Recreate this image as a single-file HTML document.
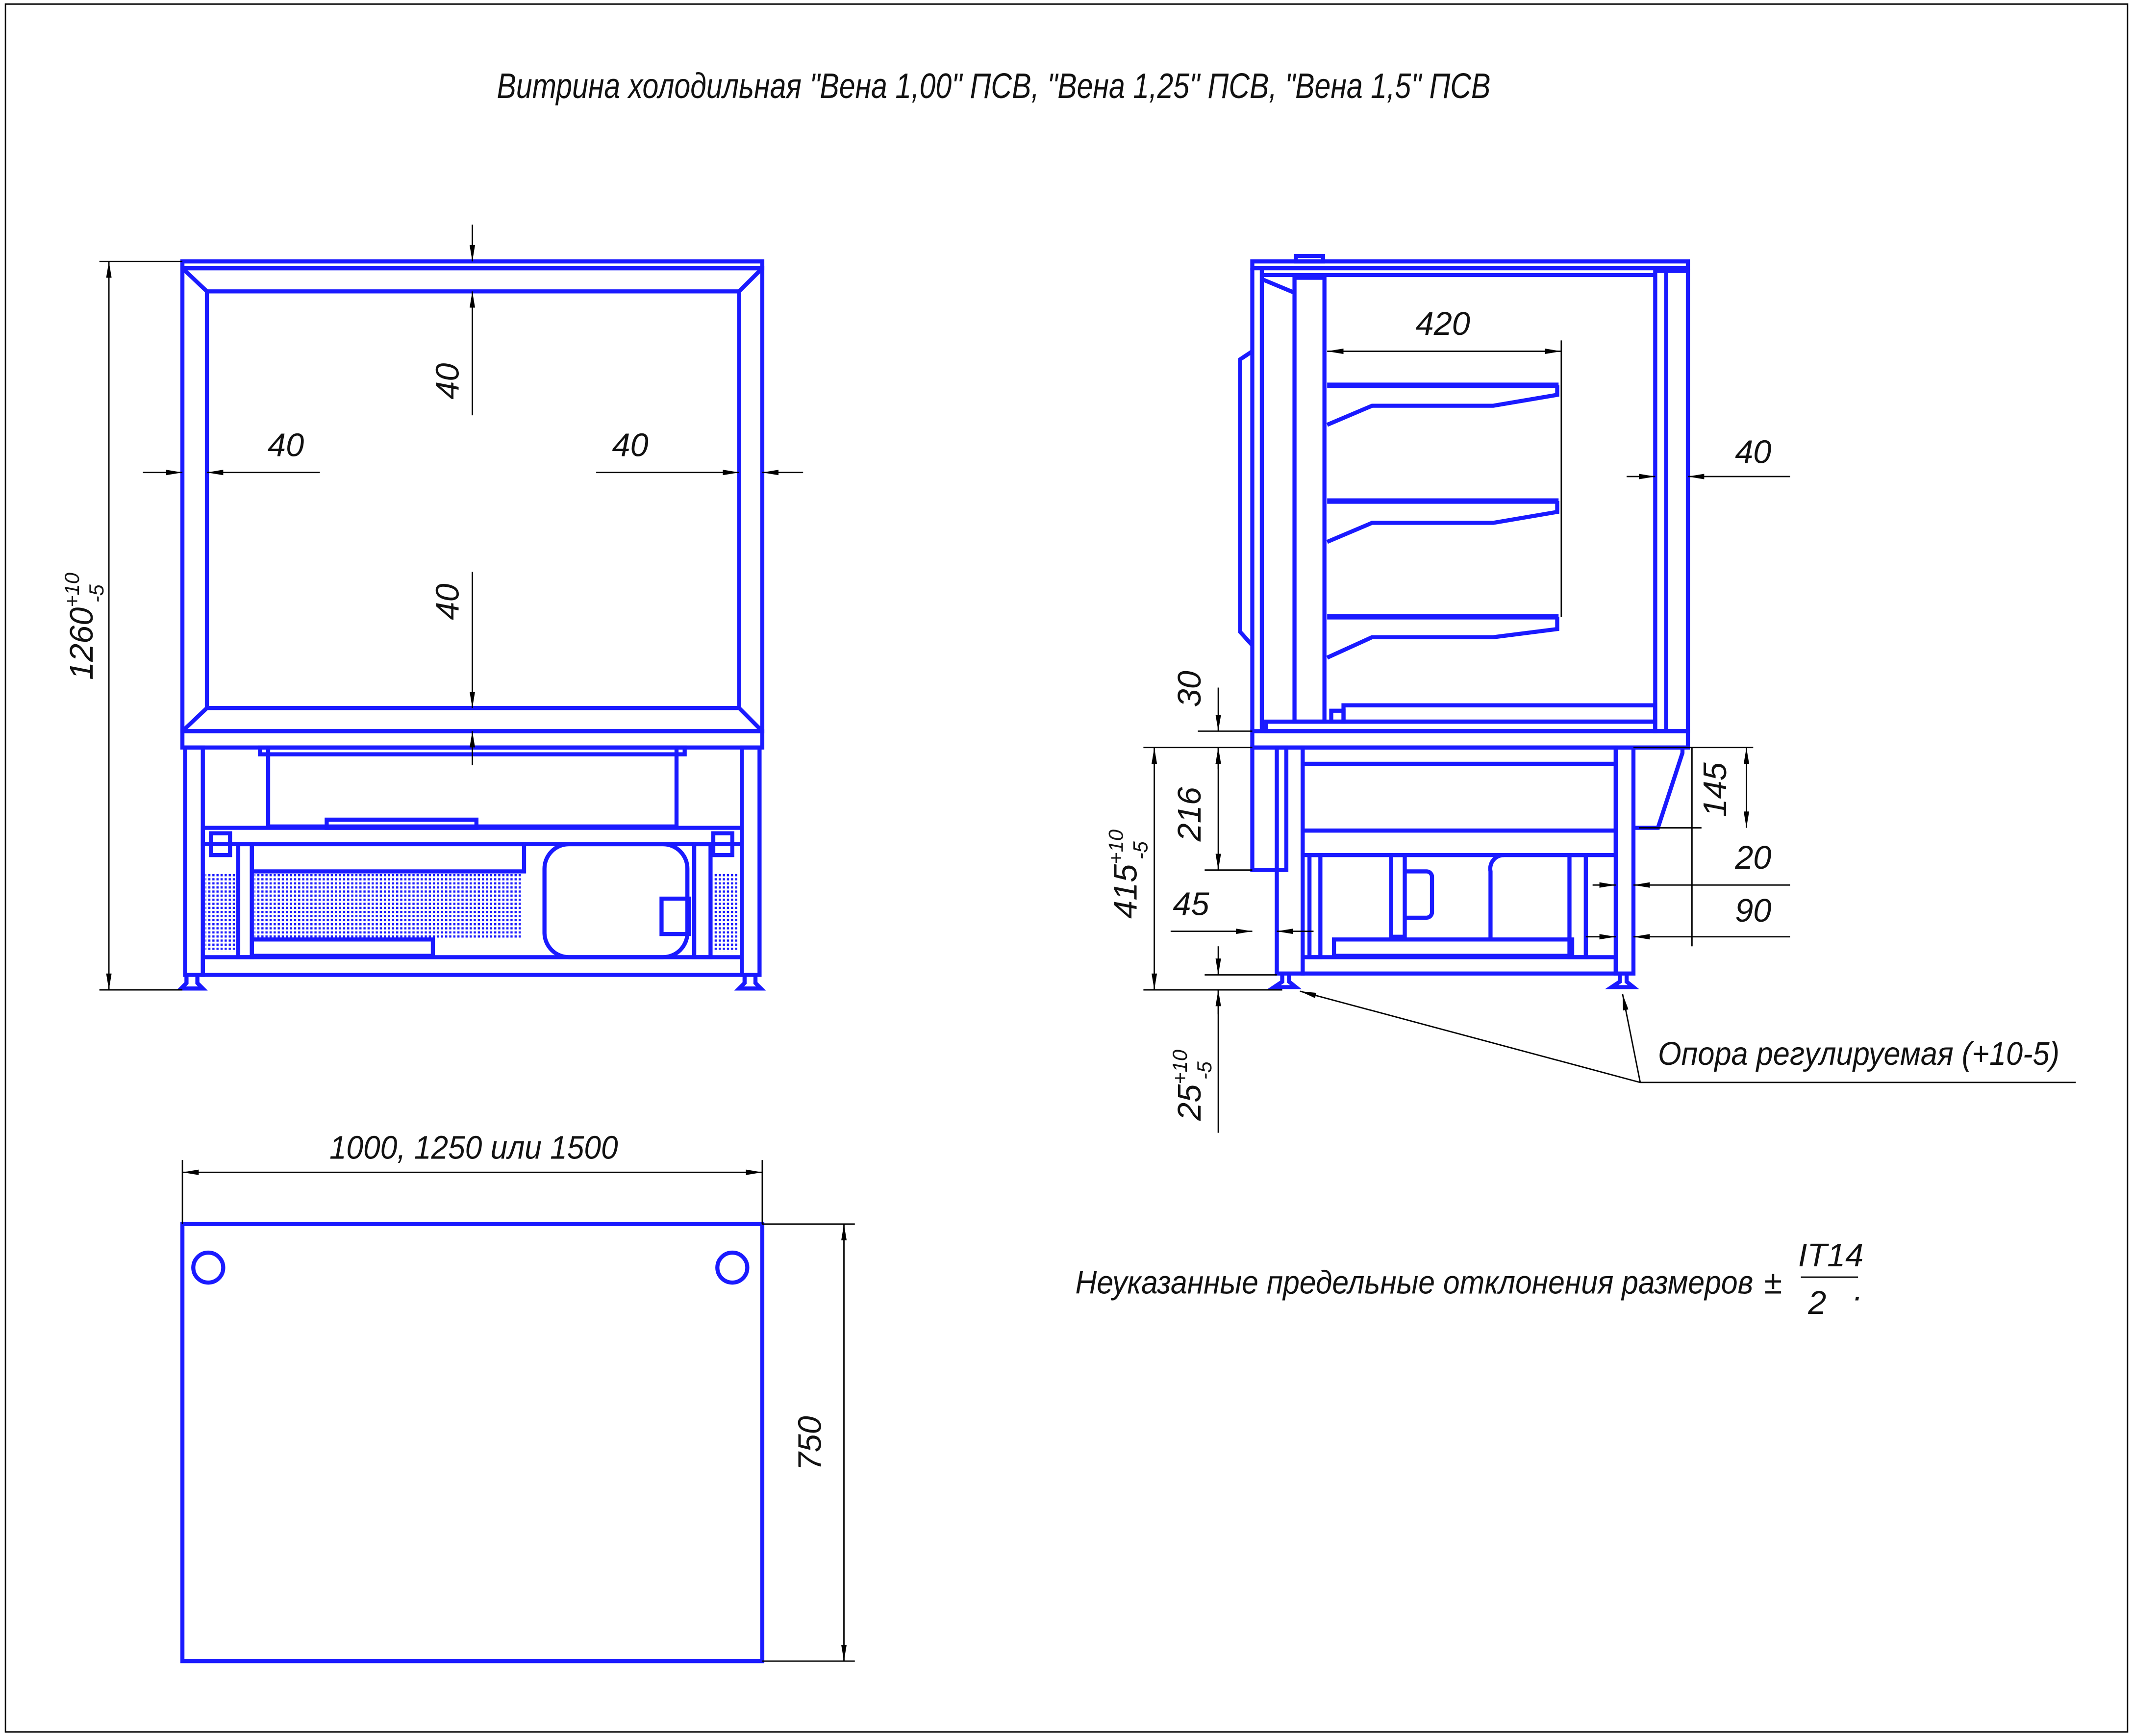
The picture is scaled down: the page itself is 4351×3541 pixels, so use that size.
<!DOCTYPE html>
<html><head><meta charset="utf-8"><style>
html,body{margin:0;padding:0;background:#fff}
svg{display:block}
text{font-family:"Liberation Sans",sans-serif;font-style:italic;fill:#111}
</style></head><body>
<svg width="4351" height="3541" viewBox="0 0 1567 1275" preserveAspectRatio="none" xmlns="http://www.w3.org/2000/svg">
<defs>
<marker id="a" viewBox="0 0 12 4" refX="12" refY="2" markerWidth="12" markerHeight="4" orient="auto-start-reverse" markerUnits="userSpaceOnUse"><path d="M0,0 L12,2 L0,4 Z" fill="#000"/></marker>
<pattern id="dots" width="3" height="3" patternUnits="userSpaceOnUse"><rect width="1.6" height="1.6" fill="#1a1aff"/></pattern>
</defs>
<rect x="4" y="3" width="1559" height="1269" fill="none" stroke="#000" stroke-width="1"/>
<text x="365" y="72" font-size="26" textLength="730" lengthAdjust="spacingAndGlyphs">Витрина холодильная "Вена 1,00" ПСВ, "Вена 1,25" ПСВ, "Вена 1,5" ПСВ</text>

<!-- FRONT VIEW -->
<g fill="none" stroke="#1a1aff" stroke-width="3">
<rect x="134" y="192" width="426" height="5"/>
<rect x="134" y="197" width="426" height="340"/>
<rect x="152" y="214" width="391" height="306"/>
<line x1="134" y1="197" x2="152" y2="214"/><line x1="560" y1="197" x2="543" y2="214"/>
<line x1="134" y1="537" x2="152" y2="520"/><line x1="560" y1="537" x2="543" y2="520"/>
<rect x="134" y="537" width="426" height="12"/>
<rect x="136" y="549" width="13" height="167"/>
<rect x="545" y="549" width="13" height="167"/>
<rect x="197" y="549" width="300" height="58"/>
<rect x="191" y="549" width="312" height="5"/>
<rect x="149" y="608" width="396" height="12"/>
<rect x="149" y="703" width="396" height="13"/>
<rect x="175" y="620" width="10" height="83"/>
<rect x="510" y="620" width="12" height="83"/>
<rect x="185" y="620" width="200" height="20"/>
<rect x="185" y="690" width="133" height="12"/>
<rect x="400" y="620" width="105" height="83" rx="18"/>
<rect x="486" y="660" width="20" height="26"/>
<rect x="155" y="612" width="14" height="16"/><rect x="524" y="612" width="14" height="16"/>
<rect x="240" y="602" width="110" height="6"/>
<path d="M137,716 l0,6 l-4,4 h16 l-4,-4 v-6 M547,716 l0,6 l-4,4 h16 l-4,-4 v-6"/>
</g>
<g fill="url(#dots)">
<rect x="151" y="641" width="22" height="58"/>
<rect x="187" y="641" width="196" height="48"/>
<rect x="524" y="641" width="19" height="58"/>
</g>
<g stroke="#000" stroke-width="1" fill="none">
<line x1="73" y1="192" x2="134" y2="192"/><line x1="73" y1="727" x2="134" y2="727"/>
<line x1="80" y1="192" x2="80" y2="727" marker-start="url(#a)" marker-end="url(#a)"/>
<line x1="105" y1="347" x2="134" y2="347" marker-end="url(#a)"/>
<line x1="235" y1="347" x2="152" y2="347" marker-end="url(#a)"/>
<line x1="438" y1="347" x2="543" y2="347" marker-end="url(#a)"/>
<line x1="590" y1="347" x2="560" y2="347" marker-end="url(#a)"/>
<line x1="347" y1="165" x2="347" y2="192" marker-end="url(#a)"/>
<line x1="347" y1="305" x2="347" y2="214" marker-end="url(#a)"/>
<line x1="347" y1="420" x2="347" y2="520" marker-end="url(#a)"/>
<line x1="347" y1="562" x2="347" y2="537" marker-end="url(#a)"/>
</g>
<text x="210" y="335" font-size="24" text-anchor="middle">40</text>
<text x="463" y="335" font-size="24" text-anchor="middle">40</text>
<text font-size="24" text-anchor="middle" transform="translate(337,280) rotate(-90)">40</text>
<text font-size="24" text-anchor="middle" transform="translate(337,442) rotate(-90)">40</text>
<text font-size="24" text-anchor="middle" transform="translate(68,460) rotate(-90)">1260<tspan font-size="15" dy="-10">+10</tspan><tspan font-size="15" dx="-22" dy="18">-5</tspan></text>

<!-- SIDE VIEW -->
<g fill="none" stroke="#1a1aff" stroke-width="3">
<rect x="920" y="192" width="320" height="5"/>
<rect x="952" y="188" width="20" height="4"/>
<line x1="920" y1="197" x2="920" y2="537"/>
<line x1="927" y1="197" x2="927" y2="537"/>
<line x1="927" y1="202" x2="1215" y2="202"/>
<line x1="927" y1="205" x2="951" y2="215"/>
<rect x="951" y="204" width="22" height="326"/>
<path d="M920,258 l-9,6 v200 l9,10"/>
<rect x="1216" y="199" width="24" height="338"/>
<line x1="1224" y1="199" x2="1224" y2="537"/>
<path d="M975,283 H1145 M975,368 H1145 M975,453 H1145" stroke-width="4"/>
<path d="M975,312 L1008,298 H1097 L1144,290 V283 M975,398 L1008,384 H1097 L1144,376 V368 M975,483 L1008,468 H1097 L1144,462 V453"/>
<rect x="987" y="518" width="229" height="12"/>
<rect x="978" y="522" width="9" height="8"/>
<rect x="930" y="530" width="286" height="7"/>
<rect x="920" y="537" width="320" height="12"/>
<rect x="920" y="549" width="25" height="90"/>
<rect x="938" y="549" width="19" height="166"/>
<rect x="957" y="549" width="230" height="12"/>
<rect x="957" y="561" width="230" height="49"/>
<rect x="957" y="610" width="230" height="18"/>
<rect x="1187" y="549" width="13" height="166"/>
<path d="M1200,549 h36 v4 l-18,55 h-18"/>
<rect x="957" y="703" width="230" height="12"/>
<rect x="962" y="628" width="8" height="75"/>
<rect x="1022" y="628" width="10" height="60"/>
<path d="M1032,640 h16 a4,4 0 0 1 4,4 v26 a4,4 0 0 1 -4,4 h-16"/>
<path d="M1095,690 V640 a10,10 0 0 1 10,-12"/>
<rect x="1153" y="628" width="12" height="75"/>
<rect x="980" y="690" width="175" height="12"/>
<path d="M942,715 v6 l-6,4 h16 l-5,-4 v-6 M1190,715 v6 l-6,4 h16 l-5,-4 v-6"/>
</g>
<g stroke="#000" stroke-width="1" fill="none">
<line x1="975" y1="258" x2="1147" y2="258" marker-start="url(#a)" marker-end="url(#a)"/>
<line x1="1147" y1="250" x2="1147" y2="453"/>
<line x1="1195" y1="350" x2="1216" y2="350" marker-end="url(#a)"/>
<line x1="1315" y1="350" x2="1240" y2="350" marker-end="url(#a)"/>
<line x1="840" y1="549" x2="920" y2="549"/>
<line x1="880" y1="537" x2="920" y2="537"/>
<line x1="895" y1="505" x2="895" y2="537" marker-end="url(#a)"/>
<line x1="895" y1="565" x2="895" y2="549" marker-end="url(#a)"/>
<line x1="848" y1="549" x2="848" y2="727" marker-start="url(#a)" marker-end="url(#a)"/>
<line x1="840" y1="727" x2="942" y2="727"/>
<line x1="885" y1="639" x2="920" y2="639"/>
<line x1="895" y1="549" x2="895" y2="639" marker-start="url(#a)" marker-end="url(#a)"/>
<line x1="885" y1="716" x2="938" y2="716"/>
<line x1="895" y1="695" x2="895" y2="716" marker-end="url(#a)"/>
<line x1="895" y1="745" x2="895" y2="727" marker-end="url(#a)"/>
<line x1="895" y1="727" x2="895" y2="832"/>
<line x1="860" y1="684" x2="920" y2="684" marker-end="url(#a)"/>
<line x1="965" y1="684" x2="938" y2="684" marker-end="url(#a)"/>
<line x1="1200" y1="549" x2="1288" y2="549"/>
<line x1="1204" y1="608" x2="1250" y2="608"/>
<line x1="1243" y1="549" x2="1243" y2="608"/>
<line x1="1283" y1="549" x2="1283" y2="608" marker-start="url(#a)" marker-end="url(#a)"/>
<line x1="1243" y1="608" x2="1243" y2="695"/>
<line x1="1315" y1="650" x2="1200" y2="650" marker-end="url(#a)"/>
<line x1="1170" y1="650" x2="1187" y2="650" marker-end="url(#a)"/>
<line x1="1315" y1="688" x2="1200" y2="688" marker-end="url(#a)"/>
<line x1="1165" y1="688" x2="1187" y2="688" marker-end="url(#a)"/>
<line x1="1205" y1="795" x2="955" y2="728" marker-end="url(#a)"/>
<line x1="1205" y1="795" x2="1192" y2="730" marker-end="url(#a)"/>
<line x1="1205" y1="795" x2="1525" y2="795"/>
</g>
<text x="1060" y="246" font-size="24" text-anchor="middle">420</text>
<text x="1288" y="340" font-size="24" text-anchor="middle">40</text>
<text font-size="24" text-anchor="middle" transform="translate(882,506) rotate(-90)">30</text>
<text font-size="24" text-anchor="middle" transform="translate(882,598) rotate(-90)">216</text>
<text font-size="24" text-anchor="middle" transform="translate(1268,580) rotate(-90)">145</text>
<text font-size="24" text-anchor="middle" transform="translate(835,642) rotate(-90)">415<tspan font-size="15" dy="-10">+10</tspan><tspan font-size="15" dx="-22" dy="18">-5</tspan></text>
<text font-size="24" text-anchor="middle" transform="translate(882,797) rotate(-90)">25<tspan font-size="15" dy="-10">+10</tspan><tspan font-size="15" dx="-22" dy="18">-5</tspan></text>
<text x="875" y="672" font-size="24" text-anchor="middle">45</text>
<text x="1288" y="638" font-size="24" text-anchor="middle">20</text>
<text x="1288" y="677" font-size="24" text-anchor="middle">90</text>
<text x="1218" y="782" font-size="24" textLength="295" lengthAdjust="spacingAndGlyphs">Опора регулируемая (+10-5)</text>

<!-- PLAN VIEW -->
<g fill="none" stroke="#1a1aff" stroke-width="3">
<rect x="134" y="899" width="426" height="321"/>
<circle cx="153" cy="931" r="11"/><circle cx="538" cy="931" r="11"/>
</g>
<g stroke="#000" stroke-width="1" fill="none">
<line x1="134" y1="852" x2="134" y2="899"/><line x1="560" y1="852" x2="560" y2="899"/>
<line x1="134" y1="861" x2="560" y2="861" marker-start="url(#a)" marker-end="url(#a)"/>
<line x1="560" y1="899" x2="628" y2="899"/><line x1="560" y1="1220" x2="628" y2="1220"/>
<line x1="620" y1="899" x2="620" y2="1220" marker-start="url(#a)" marker-end="url(#a)"/>
<line x1="1323" y1="938" x2="1365" y2="938"/>
</g>
<text x="242" y="851" font-size="24" textLength="212" lengthAdjust="spacingAndGlyphs">1000, 1250 или 1500</text>
<text font-size="24" text-anchor="middle" transform="translate(603,1060) rotate(-90)">750</text>
<text x="790" y="950" font-size="24" textLength="498" lengthAdjust="spacingAndGlyphs">Неуказанные предельные отклонения размеров</text>
<text x="1296" y="950" font-size="24">±</text>
<text x="1345" y="930" font-size="24" text-anchor="middle">IT14</text>
<text x="1335" y="965" font-size="24" text-anchor="middle">2</text>
<text x="1362" y="955" font-size="24">.</text>
</svg>
</body></html>
